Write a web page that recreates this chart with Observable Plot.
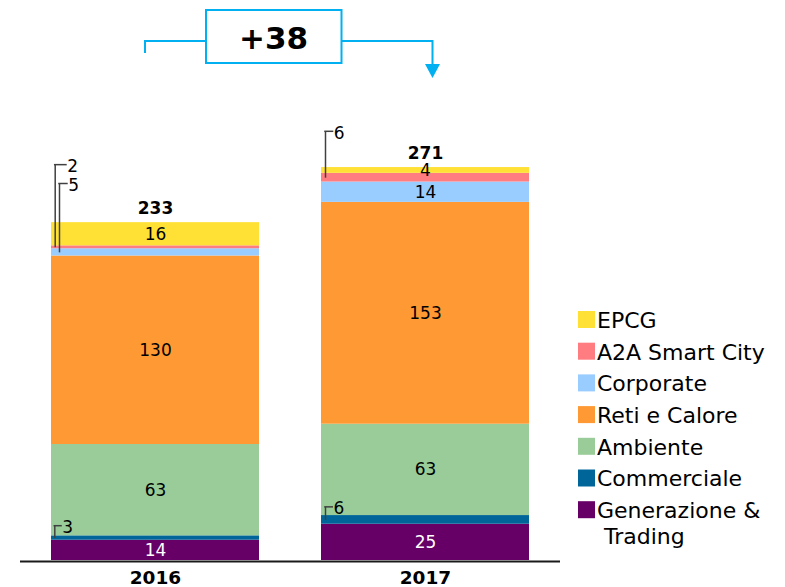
<!DOCTYPE html>
<html><head><meta charset="utf-8">
<script src="https://cdn.jsdelivr.net/npm/d3@7"></script>
<script src="https://cdn.jsdelivr.net/npm/@observablehq/plot@0.6"></script>
<style>
body{margin:0;background:#fff;font-family:"DejaVu Sans",Verdana,sans-serif;}
#wrap{position:relative;width:785px;height:587px;overflow:hidden;background:#fff;}
#wrap > svg{position:absolute;left:0;top:0;}
</style></head><body><div id="wrap"></div>
<script>
// ---- data (bottom-up stacking order) ----
const years = ["2016", "2017"];
const segments = ["Generazione & Trading", "Commerciale", "Ambiente", "Reti e Calore", "Corporate", "A2A Smart City", "EPCG"];
const colors = ["#660066", "#006699", "#99CC99", "#FF9933", "#99CCFF", "#FF7C80", "#FFE135"];
const values2016 = [14, 3, 63, 130, 5, 2, 16];
const values2017 = [25, 6, 63, 153, 14, 6, 4];
const totals = [233, 271];
const legendLabels = ["EPCG", "A2A Smart City", "Corporate", "Reti e Calore", "Ambiente", "Commerciale", "Generazione &\n Trading"];

// small segments labelled outside with leader lines
const leaders = [
  {year: "2016", segment: "Commerciale",    level: 24,  xoff: 3.3, len: 7.5},
  {year: "2016", segment: "A2A Smart City", level: 273, xoff: 3.7, len: 12},
  {year: "2016", segment: "Corporate",      level: 260, xoff: 8,   len: 8.7},
  {year: "2017", segment: "Commerciale",    level: 37,  xoff: 4,   len: 8},
  {year: "2017", segment: "A2A Smart City", level: 296, xoff: 4,   len: 8.3}
];

// ---- build stacked rows ----
const rows = [];
years.forEach((yr, j) => {
  const vals = j ? values2017 : values2016;
  let acc = 0;
  segments.forEach((s, i) => {
    rows.push({year: yr, segment: s, value: vals[i], y1: acc, y2: acc + vals[i], mid: acc + vals[i] / 2});
    acc += vals[i];
  });
});
const isOutside = r => leaders.some(l => l.year === r.year && l.segment === r.segment);
leaders.forEach(l => { const r = rows.find(r => r.year === l.year && r.segment === l.segment); l.mid = r.mid; l.value = r.value; });

const BW = 208; // band width in px
const leaderMarks = leaders.flatMap(l => [
  Plot.link([l], {x1: "year", x2: "year", y1: "mid", y2: "level", dx: l.xoff - BW / 2, stroke: "#404040", strokeWidth: 1.5}),
  Plot.tickY([l], {x: "year", y: "level", insetLeft: l.xoff - 0.75, insetRight: BW - l.xoff - l.len, stroke: "#404040", strokeWidth: 1.5}),
  Plot.text([l], {x: "year", y: "level", text: "value", textAnchor: "start", dx: l.xoff + l.len - BW / 2, dy: 2, fontSize: 17, fill: "#000"})
]);

const chart = Plot.plot({
  width: 785,
  height: 587,
  marginLeft: 51,
  marginRight: 256,
  marginTop: 125,
  marginBottom: 27,
  style: {fontFamily: "DejaVu Sans, Verdana, sans-serif", background: "transparent", color: "#000"},
  x: {type: "band", domain: years, paddingInner: 0.22963, paddingOuter: 0, round: false, axis: null},
  y: {domain: [0, 300], axis: null},
  color: {domain: segments, range: colors},
  marks: [
    Plot.barY(rows, {x: "year", y1: "y1", y2: "y2", fill: "segment"}),
    Plot.text(rows.filter(r => !isOutside(r)), {
      x: "year", y: "mid", text: "value", fontSize: 17,
      fill: r => r.segment === "Generazione & Trading" ? "#fff" : "#000"
    }),
    Plot.text(years.map((y, i) => ({year: y, total: totals[i]})), {x: "year", y: "total", text: "total", dy: -14, fontSize: 17, fontWeight: "bold", fill: "#000"}),
    ...leaderMarks,
    Plot.ruleY([0], {stroke: "#1a1a1a", strokeWidth: 2, dy: 1, insetLeft: -31, insetRight: -31}),
    Plot.axisX({tickSize: 0, tickPadding: 10, fontSize: 18.5, fontWeight: "bold", label: null, fill: "#000"})
  ]
});
const wrap = document.getElementById("wrap");
wrap.appendChild(chart);

// ---- "+38" annotation ----
const diff = totals[1] - totals[0];
const blue = "#00B0F0";
const ns = "http://www.w3.org/2000/svg";
const ann = document.createElementNS(ns, "svg");
ann.setAttribute("width", 785); ann.setAttribute("height", 587);
ann.innerHTML = `
  <polyline points="145,53 145,41 206,41" fill="none" stroke="${blue}" stroke-width="2"/>
  <rect x="206" y="10" width="135.5" height="53" fill="#fff" stroke="${blue}" stroke-width="2"/>
  <polyline points="341.5,41 432.5,41 432.5,65" fill="none" stroke="${blue}" stroke-width="2"/>
  <polygon points="425,64 440,64 432.5,78" fill="${blue}"/>
  <text x="273.5" y="48.5" text-anchor="middle" font-family="DejaVu Sans, Verdana, sans-serif" font-weight="bold" font-size="31" fill="#000">+${diff}</text>
`;
// legend
legendLabels.forEach((lab, k) => {
  const i = segments.length - 1 - k;
  const y0 = 311 + k * 31.7;
  const r = document.createElementNS(ns, "rect");
  r.setAttribute("x", 578); r.setAttribute("y", y0); r.setAttribute("width", 17); r.setAttribute("height", 17);
  r.setAttribute("fill", colors[i]);
  ann.appendChild(r);
  const t = document.createElementNS(ns, "text");
  t.setAttribute("font-family", "DejaVu Sans, Verdana, sans-serif");
  t.setAttribute("font-size", 22);
  t.setAttribute("fill", "#000");
  t.setAttribute("xml:space", "preserve");
  lab.split("\n").forEach((line, li) => {
    const ts = document.createElementNS(ns, "tspan");
    ts.setAttribute("x", 597);
    ts.setAttribute("y", y0 + 16.8 + li * 26);
    ts.textContent = line;
    t.appendChild(ts);
  });
  ann.appendChild(t);
});
wrap.appendChild(ann);
</script>
</body></html>
